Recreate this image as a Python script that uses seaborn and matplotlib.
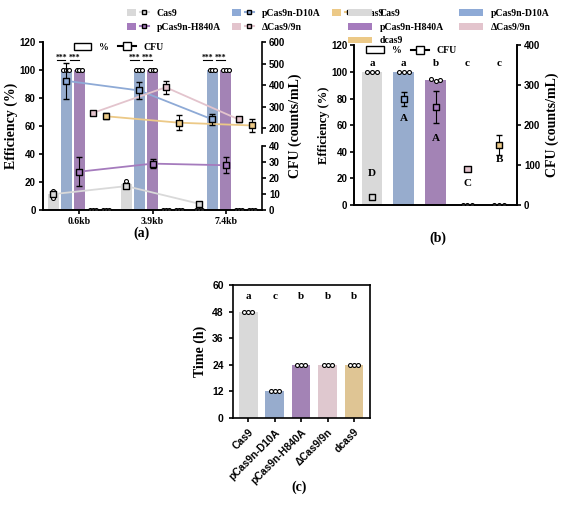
import numpy as np
import pandas as pd
import matplotlib
matplotlib.use('Agg')
import matplotlib.pyplot as plt
import seaborn as sns
from matplotlib.patches import Patch
from matplotlib.lines import Line2D
from matplotlib.legend_handler import HandlerTuple

strains = ['Cas9', 'pCas9n-D10A', 'pCas9n-H840A', 'ΔCas9/9n', 'dcas9']
colors = ['#d9d9d9', '#8eaad6', '#a57bbd', '#e3c4cd', '#ecc987']
sizes = ['0.6kb', '3.9kb', '7.4kb']

# panel (a): efficiency replicates per size, per strain
eff_a = {
    'Cas9': [[9, 11, 14], [17, 19, 21], [0, 0, 0]],
    'pCas9n-D10A': [[100, 100, 100]] * 3,
    'pCas9n-H840A': [[100, 100, 100]] * 3,
    'ΔCas9/9n': [[0, 0, 0]] * 3,
    'dcas9': [[0, 0, 0]] * 3,
}
cfu_a = {
    'Cas9': [10, 15, 4],
    'pCas9n-D10A': [420, 375, 240],
    'pCas9n-H840A': [24, 29, 28],
    'ΔCas9/9n': [270, 390, 240],
    'dcas9': [255, 225, 212],
}
cfu_a_err = {
    'Cas9': [0, 0, 0],
    'pCas9n-D10A': [85, 40, 25],
    'pCas9n-H840A': [9, 3, 5],
    'ΔCas9/9n': [8, 30, 12],
    'dcas9': [15, 35, 30],
}

# panel (b)
eff_b = [[100, 100, 100], [100, 100, 100], [95, 93, 94], [0, 0, 0], [0, 0, 0]]
cfu_b = [20, 265, 245, 90, 150]
cfu_b_err = [5, 18, 40, 0, 25]
letters_b = ['a', 'a', 'b', 'c', 'c']
cfu_letters_b = ['D', 'A', 'A', 'C', 'B']

# panel (c)
time_c = [[48, 48, 48], [12, 12, 12], [24, 24, 24], [24, 24, 24], [24, 24, 24]]
letters_c = ['a', 'c', 'b', 'b', 'b']

serif = 'Liberation Serif'
sans = 'Liberation Sans'
plt.rcParams['font.family'] = sans
plt.rcParams['font.weight'] = 'bold'
plt.rcParams['axes.linewidth'] = 1.2
legprop = {'family': serif, 'weight': 'bold', 'size': 7}


def cfu_to_eff(v):
    # broken right axis of panel (a)
    v = np.asarray(v, dtype=float)
    return np.where(v <= 40, v * 45.9 / 40, 58.7 + (v - 200) * 0.1533)


fig = plt.figure(figsize=(5.65, 5.09), dpi=100)
pal = dict(zip(strains, colors))

# ---------- (a)
ax = fig.add_axes([0.076, 0.587, 0.388, 0.33])
rows = []
for s in strains:
    for gi, g in enumerate(sizes):
        rows.append({'size': g, 'strain': s, 'eff': np.mean(eff_a[s][gi])})
dfa = pd.DataFrame(rows)
sns.barplot(data=dfa, x='size', y='eff', hue='strain', palette=pal, hue_order=strains,
            width=0.9, gap=0.15, ax=ax, legend=False, errorbar=None)
step = 0.18
for si, s in enumerate(strains):
    xs = np.arange(3) + (si - 2) * step
    for gi in range(3):
        ax.scatter(xs[gi] + np.array([-0.04, 0, 0.04]) if len(set(eff_a[s][gi])) == 1 else [xs[gi]] * 3,
                   eff_a[s][gi], s=8, facecolor='white', edgecolor='black', lw=0.8, zorder=5)
    y = cfu_to_eff(cfu_a[s])
    lo = y - cfu_to_eff(np.array(cfu_a[s]) - np.array(cfu_a_err[s]))
    hi = cfu_to_eff(np.array(cfu_a[s]) + np.array(cfu_a_err[s])) - y
    ax.plot(xs, y, color=colors[si], lw=1.3, zorder=4)
    ax.errorbar(xs, y, yerr=[lo, hi], fmt='none', ecolor='black', elinewidth=0.8, capsize=2, zorder=6)
    ax.scatter(xs, y, marker='s', s=20, facecolor=colors[si], edgecolor='black', lw=1, zorder=7)
for gi in range(3):
    for si in (1, 2):
        x = gi + (si - 2.4) * step
        ax.plot([x - 0.06, x + 0.06], [107, 107], color='black', lw=0.8)
        ax.text(x, 106, '***', ha='center', va='bottom', fontsize=5.5, fontfamily=serif)
ax.set_ylim(0, 120)
ax.set_xlim(-0.5, 2.5)
ax.set_yticks(range(0, 121, 20))
ax.set_xlabel('')
ax.set_ylabel('Efficiency (%)', fontfamily=serif, fontsize=10, fontweight='bold', labelpad=1)
ax.tick_params(labelsize=7, width=1.2, length=3, pad=2)
for t in ax.get_xticklabels():
    t.set_fontfamily(serif)
sns.despine(ax=ax, right=False)
ax.spines['right'].set_visible(False)
axr = ax.twinx()
axr.set_ylim(0, 120)
rt = [0, 10, 20, 30, 40, 200, 300, 400, 500, 600]
axr.set_yticks(cfu_to_eff(rt))
axr.set_yticklabels([str(v) for v in rt])
axr.tick_params(labelsize=7, width=1.2, length=3, pad=2)
axr.spines['right'].set_bounds(55, 120)
axr.spines['top'].set_visible(False)
axr.plot([1, 1], [0, 46], color='black', lw=1.2, transform=axr.get_yaxis_transform(), clip_on=False)
axr.set_ylabel('CFU (counts/mL)', fontfamily=serif, fontsize=10, fontweight='bold', labelpad=2)
ax.legend([Patch(facecolor='white', edgecolor='black'),
           Line2D([], [], color='black', marker='s', mfc='white', mec='black')],
          ['%', 'CFU'], ncol=2, loc='upper left', bbox_to_anchor=(0.1, 1.05), frameon=False,
          prop=legprop, handlelength=1.8, columnspacing=1)
order_a = [0, 2, 1, 3, 4]
handles = [(Patch(facecolor=colors[i]),
            Line2D([], [], color=colors[i], marker='s', ms=3, mfc=colors[i], mec='black'))
           for i in order_a]
fig.legend(handles, [strains[i] for i in order_a], ncol=3, loc='upper left',
           bbox_to_anchor=(0.21, 1.0), frameon=False,
           handler_map={tuple: HandlerTuple(ndivide=None)},
           prop=legprop, columnspacing=1.2, handlelength=2.2, labelspacing=0.5)
fig.text(0.25, 0.535, '(a)', ha='center', fontfamily=serif, fontsize=10, fontweight='bold')

# ---------- (b)
bx = fig.add_axes([0.627, 0.597, 0.288, 0.314])
dfb = pd.DataFrame({'strain': strains, 'eff': [np.mean(v) for v in eff_b]})
sns.barplot(data=dfb, x='strain', y='eff', hue='strain', palette=pal, order=strains,
            width=0.65, ax=bx, legend=False, errorbar=None)
for i, v in enumerate(eff_b):
    bx.scatter(i + np.array([-0.15, 0, 0.15]), v, s=8, facecolor='white', edgecolor='black', lw=0.8, zorder=5)
    bx.text(i, 103, letters_b[i], ha='center', va='bottom', fontfamily=serif, fontsize=8)
bx.set_ylim(0, 120)
bx.set_yticks(range(0, 121, 20))
bx.set_xticks([])
bx.set_xlabel('')
bx.set_ylabel('Efficiency (%)', fontfamily=serif, fontsize=9, fontweight='bold', labelpad=1)
bx.tick_params(labelsize=7, width=1.2, length=3, pad=2)
bx.spines['top'].set_visible(False)
bxr = bx.twinx()
bxr.set_ylim(0, 400)
bxr.set_yticks(range(0, 401, 100))
bxr.tick_params(labelsize=7, width=1.2, length=3, pad=2)
bxr.spines['top'].set_visible(False)
bxr.errorbar(range(5), cfu_b, yerr=cfu_b_err, fmt='none', ecolor='black', elinewidth=0.8, capsize=2, zorder=6)
bxr.scatter(range(5), cfu_b, marker='s', s=20, facecolor=colors, edgecolor='black', lw=1, zorder=7)
let_y = [80, 218, 168, 55, 115]
for i, l in enumerate(cfu_letters_b):
    bxr.text(i, let_y[i], l, ha='center', va='center', fontfamily=serif, fontsize=8)
bxr.set_ylabel('CFU (counts/mL)', fontfamily=serif, fontsize=10, fontweight='bold')
bx.legend([Patch(facecolor='white', edgecolor='black'),
           Line2D([], [], color='black', marker='s', mfc='white', mec='black')],
          ['%', 'CFU'], ncol=2, loc='upper left', bbox_to_anchor=(0.02, 1.05), frameon=False,
          prop=legprop, handlelength=1.8, columnspacing=1)
order_b = [0, 2, 4, 1, 3]
fig.legend([Patch(facecolor=colors[i]) for i in order_b], [strains[i] for i in order_b],
           ncol=2, loc='upper left', bbox_to_anchor=(0.6, 1.0), frameon=False,
           prop=legprop, columnspacing=1.5, handlelength=2.5, labelspacing=0.5)
fig.text(0.775, 0.525, '(b)', ha='center', fontfamily=serif, fontsize=10, fontweight='bold')

# ---------- (c)
cx = fig.add_axes([0.412, 0.179, 0.242, 0.261])
dfc = pd.DataFrame({'strain': strains, 'time': [np.mean(v) for v in time_c]})
sns.barplot(data=dfc, x='strain', y='time', hue='strain', palette=pal, order=strains,
            width=0.7, ax=cx, legend=False, errorbar=None)
for i, v in enumerate(time_c):
    cx.scatter(i + np.array([-0.15, 0, 0.15]), v, s=8, facecolor='white', edgecolor='black', lw=0.8, zorder=5)
    cx.text(i, 53, letters_c[i], ha='center', va='bottom', fontfamily=serif, fontsize=8)
cx.set_ylim(0, 60)
cx.set_yticks(range(0, 61, 12))
cx.set_xlabel('')
cx.set_ylabel('Time (h)', fontfamily=serif, fontsize=10, fontweight='bold')
cx.tick_params(labelsize=7.5, width=1.2, length=3)
cx.set_xticks(range(5))
cx.set_xticklabels(strains, rotation=45, ha='right', rotation_mode='anchor')
fig.text(0.53, 0.035, '(c)', ha='center', fontfamily=serif, fontsize=10, fontweight='bold')

fig.savefig('out.png', dpi=100)
